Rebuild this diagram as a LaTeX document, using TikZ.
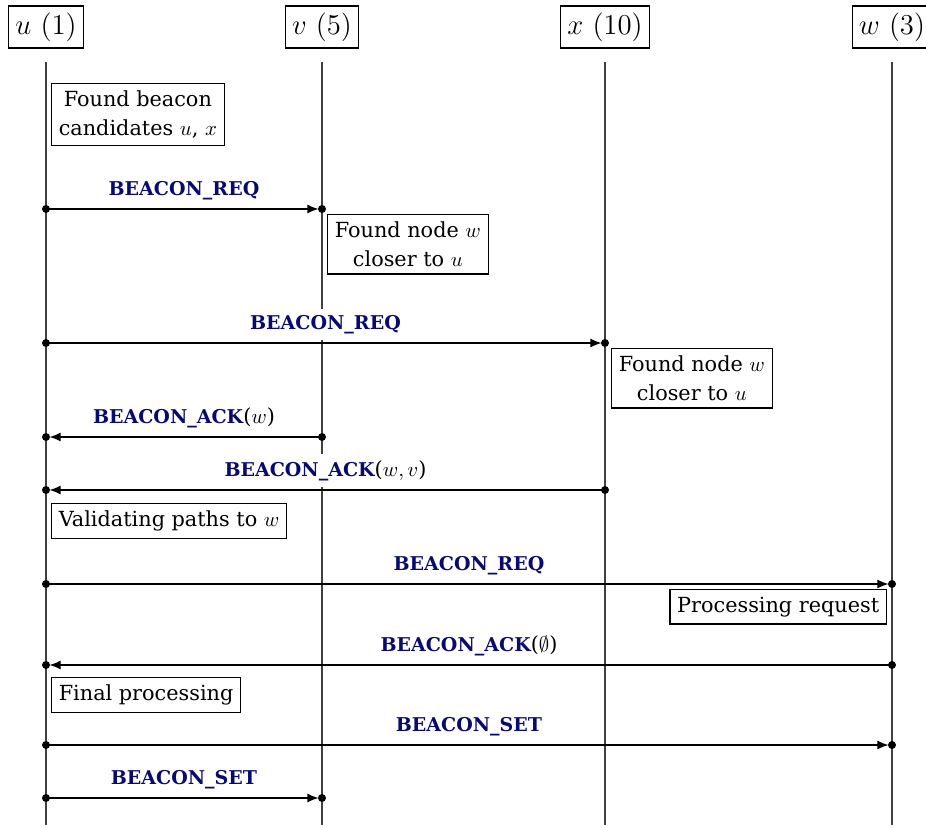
\RequirePackage{fix-cm}
\documentclass[tikz,border=0pt]{standalone}
\usepackage{fontspec}
\setmainfont{DejaVu Serif}
\usetikzlibrary{arrows.meta}
\definecolor{msgblue}{RGB}{10,10,110}
\tikzset{
  actor/.style={draw, line width=0.6pt, inner sep=3.3pt, font=\fontsize{14.4}{17}\selectfont},
  life/.style={line width=0.6pt, draw=black!75},
  note/.style={draw, line width=0.6pt, fill=white, align=center, inner sep=3.6pt, font=\fontsize{10.4}{14.5}\selectfont},
  msg/.style={line width=0.6pt, -{Latex[length=5.5pt,width=4.5pt]}, shorten >=1.8pt},
  lbl/.style={fill=white, inner sep=3.3pt, font=\fontsize{10.4}{13}\selectfont, anchor=south, yshift=1pt},
  enddot/.style={fill=black}
}
\newcommand{\mlab}[1]{{\fontsize{9.5}{13}\selectfont\bfseries\color{msgblue}#1}}
\begin{document}
\begin{tikzpicture}[x=0.5pt,y=-0.5pt]
\useasboundingbox (0,0) rectangle (926,828);
% actors
\node[actor] (U) at (46,27) {$u\ (1)$};
\node[actor] (V) at (322,27) {$v\ (5)$};
\node[actor] (X) at (605,27) {$x\ (10)$};
\node[actor] (W) at (892,27) {$w\ (3)$};
% lifelines
\foreach \n/\xx in {u/46,v/322,x/605,w/892}{
  \coordinate (\n top) at (\xx,62);
  \coordinate (\n bot) at (\xx,825);
  \draw[life] (\n top) -- (\n bot);
}
% message end points
\coordinate (m1a) at (46,209);  \coordinate (m1b) at (322,209);
\coordinate (m2a) at (46,343);  \coordinate (m2b) at (605,343);
\coordinate (m3a) at (322,437); \coordinate (m3b) at (46,437);
\coordinate (m4a) at (605,490); \coordinate (m4b) at (46,490);
\coordinate (m5a) at (46,584);  \coordinate (m5b) at (892,584);
\coordinate (m6a) at (892,665); \coordinate (m6b) at (46,665);
\coordinate (m7a) at (46,745);  \coordinate (m7b) at (892,745);
\coordinate (m8a) at (46,798);  \coordinate (m8b) at (322,798);
% messages
\draw[msg] (m1a) -- (m1b) node[midway, lbl] {\mlab{BEACON\_REQ}};
\draw[msg] (m2a) -- (m2b) node[midway, lbl] {\mlab{BEACON\_REQ}};
\draw[msg] (m3a) -- (m3b) node[midway, lbl] {\mlab{BEACON\_ACK}($w$)};
\draw[msg] (m4a) -- (m4b) node[midway, lbl] {\mlab{BEACON\_ACK}($w, v$)};
\draw[msg] (m5a) -- (m5b) node[midway, lbl] {\mlab{BEACON\_REQ}};
\draw[msg] (m6a) -- (m6b) node[midway, lbl] {\mlab{BEACON\_ACK}($\emptyset$)};
\draw[msg] (m7a) -- (m7b) node[midway, lbl] {\mlab{BEACON\_SET}};
\draw[msg] (m8a) -- (m8b) node[midway, lbl] {\mlab{BEACON\_SET}};
\foreach \p in {m1a,m1b,m2a,m2b,m3a,m3b,m4a,m4b,m5a,m5b,m6a,m6b,m7a,m7b,m8a,m8b}
  \fill[enddot] (\p) circle (2pt);
% notes
\node[note, anchor=north west] (cand) at (51,83) {Found beacon\\candidates $u$, $x$};
\node[note, anchor=north west] (fnv) at (327,214) {Found node $w$\\closer to $u$};
\node[note, anchor=north west] (fnx) at (611,348) {Found node $w$\\closer to $u$};
\node[note, anchor=north west] (valid) at (51,503) {Validating paths to $w$};
\node[note, anchor=north east] (proc) at (887,589) {Processing request};
\node[note, anchor=north west] (final) at (51,677) {Final processing};
\end{tikzpicture}
\end{document}
